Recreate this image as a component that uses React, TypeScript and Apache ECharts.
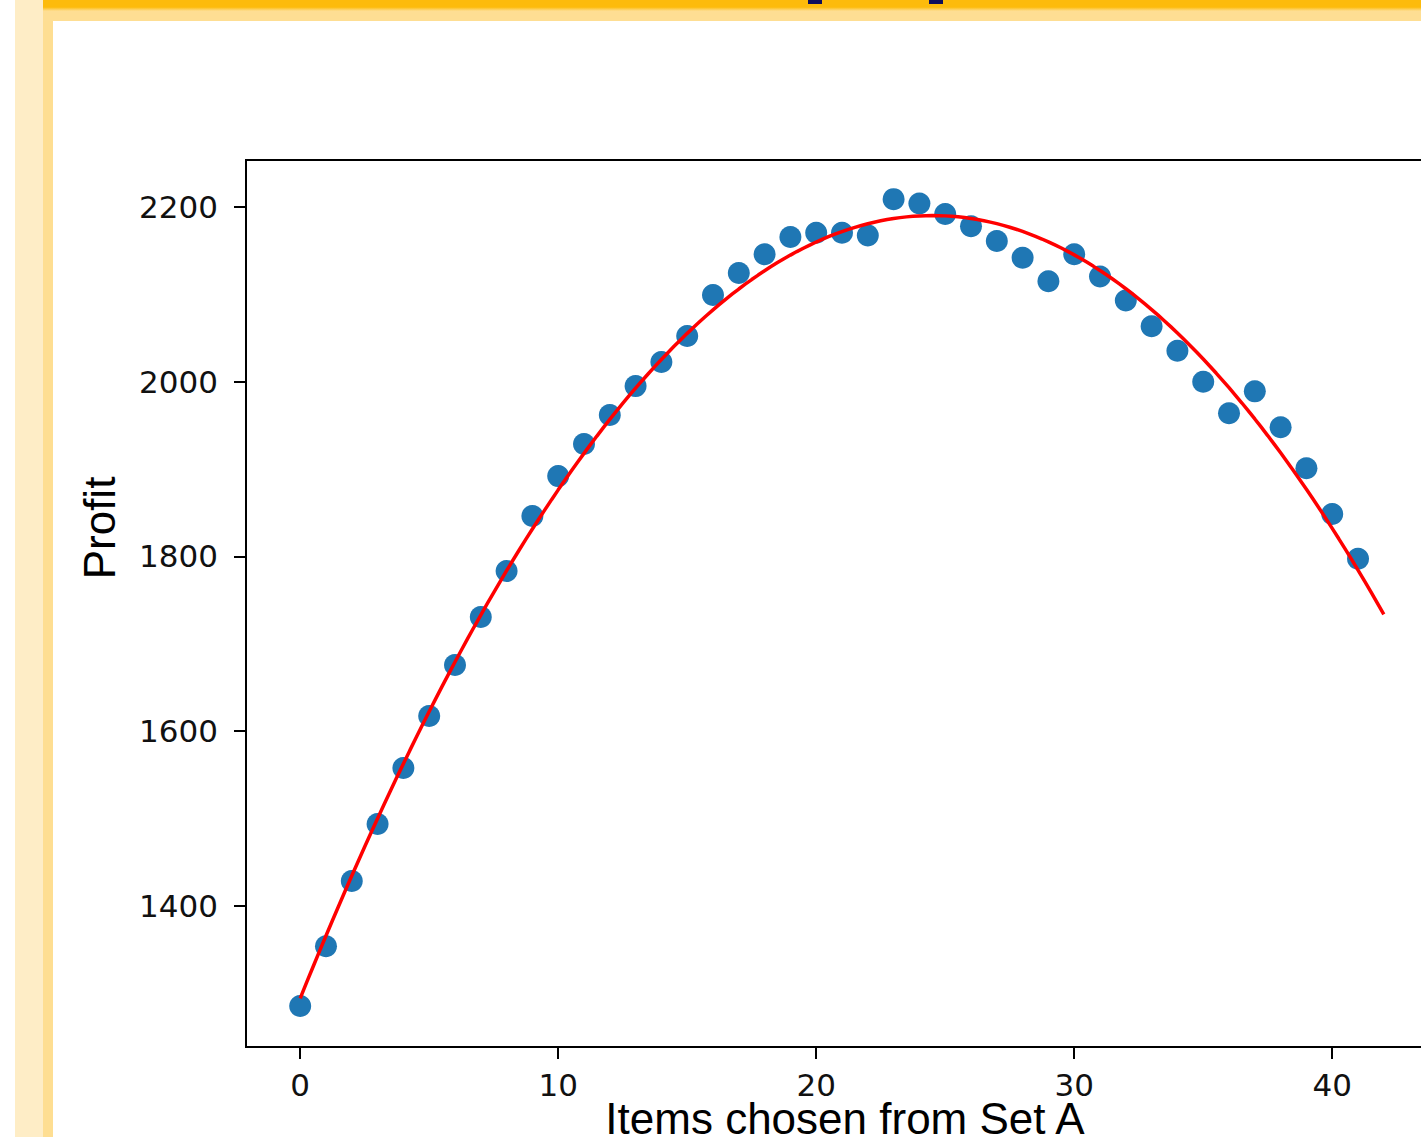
import React, { useEffect, useRef } from "react";
import * as echarts from "echarts";

const itemsA = [0,1,2,3,4,5,6,7,8,9,10,11,12,13,14,15,16,17,18,19,20,21,22,23,24,25,26,27,28,29,30,31,32,33,34,35,36,37,38,39,40,41];
const profit = [1285.6,1354,1428.6,1493.8,1558,1617.5,1675.8,1730.8,1783.4,1846.4,1892,1928.8,1962,1995,2022.6,2052.4,2099.3,2124.5,2146,2165.7,2170.5,2170.5,2167.5,2209,2204,2192,2178,2161,2142,2115,2146,2120.5,2093,2063.5,2035.5,2000,1964,1989,1948,1901,1848.6,1797.5];
const xTicks = [0, 10, 20, 30, 40];
const yTicks = [1400, 1600, 1800, 2000, 2200];
const fitRange = [0, 42];
const xTitle = "Items chosen from Set A";
const yTitle = "Profit";

// least-squares quadratic fit (what the original plot's fitted curve is)
function quadFit(xs: number[], ys: number[]) {
  let s0 = 0, s1 = 0, s2 = 0, s3 = 0, s4 = 0, t0 = 0, t1 = 0, t2 = 0;
  for (let i = 0; i < xs.length; i++) {
    const x = xs[i], y = ys[i];
    s0 += 1; s1 += x; s2 += x * x; s3 += x * x * x; s4 += x * x * x * x;
    t0 += y; t1 += x * y; t2 += x * x * y;
  }
  const M = [[s0, s1, s2, t0], [s1, s2, s3, t1], [s2, s3, s4, t2]];
  for (let c = 0; c < 3; c++) {
    for (let r = c + 1; r < 3; r++) {
      const f = M[r][c] / M[c][c];
      for (let k = c; k < 4; k++) M[r][k] -= f * M[c][k];
    }
  }
  const sol = [0, 0, 0];
  for (let r = 2; r >= 0; r--) {
    let v = M[r][3];
    for (let k = r + 1; k < 3; k++) v -= M[r][k] * sol[k];
    sol[r] = v / M[r][r];
  }
  return sol;
}

export default function App() {
  const ref = useRef<HTMLDivElement>(null);
  useEffect(() => {
    if (!ref.current) return;
    const chart = echarts.init(ref.current, null, { renderer: "svg" });
    const [a, b, c] = quadFit(itemsA, profit);
    const fitLine: number[][] = [];
    const steps = 168;
    for (let i = 0; i <= steps; i++) {
      const x = fitRange[0] + ((fitRange[1] - fitRange[0]) * i) / steps;
      fitLine.push([x, a + b * x + c * x * x]);
    }
    const scatterData = itemsA.map((x, i) => [x, profit[i]]);
    const tickFont = {
      fontFamily: "DejaVu Sans",
      fontSize: 31,
      color: "#111",
      formatter: (v: number) => String(v),
    };
    chart.setOption({
      animation: false,
      backgroundColor: "#ffffff",
      graphic: [
        { type: "rect", shape: { x: 15, y: 0, width: 28, height: 1137 }, style: { fill: "#FEEDC6" }, z: 0 },
        { type: "rect", shape: { x: 43, y: 0, width: 10, height: 1137 }, style: { fill: "#FEDE92" }, z: 0 },
        { type: "rect", shape: { x: 43, y: 0, width: 1417, height: 21 }, style: { fill: "#FEDE93" }, z: 0 },
        {
          type: "rect",
          shape: { x: 43, y: 0, width: 1417, height: 11 },
          style: {
            fill: new echarts.graphic.LinearGradient(0, 0, 0, 1, [
              { offset: 0, color: "#FDBB0B" },
              { offset: 0.65, color: "#FDBB0B" },
              { offset: 1, color: "#FEDE93" },
            ]),
          },
          z: 0,
        },
        { type: "rect", shape: { x: 808, y: 0, width: 14, height: 4 }, style: { fill: "#0E0E5C" }, z: 1 },
        { type: "rect", shape: { x: 929, y: 0, width: 14, height: 4 }, style: { fill: "#0E0E5C" }, z: 1 },
        {
          type: "text",
          x: 99,
          y: 528,
          rotation: Math.PI / 2,
          style: {
            text: yTitle,
            fontFamily: "Liberation Sans",
            fontSize: 44,
            fill: "#000",
            textAlign: "center",
            textVerticalAlign: "middle",
          },
          z: 5,
        },
        {
          type: "text",
          x: 845,
          y: 1118,
          style: {
            text: xTitle,
            fontFamily: "Liberation Sans",
            fontSize: 44,
            lineHeight: 30,
            fill: "#000",
            textAlign: "center",
            textVerticalAlign: "middle",
          },
          z: 5,
        },
      ],
      grid: {
        left: 246,
        top: 160,
        width: 1192,
        height: 887,
        show: true,
        borderColor: "#000",
        borderWidth: 2,
        backgroundColor: "transparent",
        outerBoundsMode: "none",
        containLabel: false,
      },
      xAxis: {
        type: "value",
        min: -2.1,
        max: 44.1,
        axisLine: { show: false, onZero: false },
        splitLine: { show: false },
        axisTick: { show: true, length: 12, lineStyle: { color: "#000", width: 2 }, customValues: xTicks },
        axisLabel: { ...tickFont, margin: 22, customValues: xTicks },
      },
      yAxis: {
        type: "value",
        min: 1238.6,
        max: 2253.8,
        axisLine: { show: false, onZero: false },
        splitLine: { show: false },
        axisTick: { show: true, length: 12, lineStyle: { color: "#000", width: 2 }, customValues: yTicks },
        axisLabel: { ...tickFont, margin: 28, customValues: yTicks },
      },
      series: [
        {
          type: "scatter",
          data: scatterData,
          symbolSize: 22,
          itemStyle: { color: "#1f77b4", opacity: 1 },
          z: 2,
        },
        {
          type: "line",
          data: fitLine,
          showSymbol: false,
          symbol: "none",
          smooth: false,
          lineStyle: { color: "#ff0000", width: 3.5 },
          z: 3,
        },
      ],
    });
    return () => chart.dispose();
  }, []);
  return (
    <div style={{ position: "fixed", left: 0, top: 0, width: 1421, height: 1137, overflow: "hidden", background: "#fff" }}>
      <div ref={ref} style={{ width: 1460, height: 1137 }} />
    </div>
  );
}
